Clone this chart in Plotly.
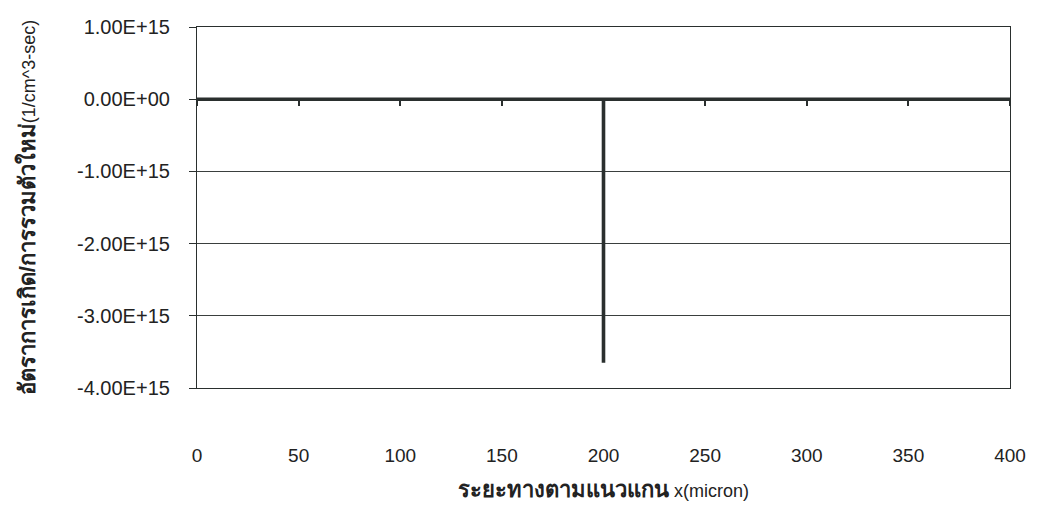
import plotly.graph_objects as go

# Position along the x axis (micron) and net generation/recombination rate (1/cm^3-sec)
x_micron = [0, 200, 200, 200, 400]
rate = [0.0, 0.0, -3.65e15, 0.0, 0.0]

x_ticks = [0, 50, 100, 150, 200, 250, 300, 350, 400]
y_ticks = [1e15, 0, -1e15, -2e15, -3e15, -4e15]
y_tick_text = ["1.00E+15", "0.00E+00", "-1.00E+15", "-2.00E+15", "-3.00E+15", "-4.00E+15"]

ink = "#2a2f2e"
font = "Liberation Sans, Arial, sans-serif"

fig = go.Figure()
fig.add_trace(go.Scatter(
    x=x_micron, y=rate, mode="lines",
    line=dict(color=ink, width=3.6),
    showlegend=False, hoverinfo="skip",
))
# invisible helper trace so the secondary x axis (ticks on the zero line) is drawn
fig.add_trace(go.Scatter(x=[x_ticks[0], x_ticks[-1]], y=[0, 0], xaxis="x2",
                         mode="lines", line=dict(width=0), showlegend=False,
                         hoverinfo="skip"))

fig.update_layout(
    width=1038, height=521,
    margin=dict(l=197, r=18, t=27, b=133),
    paper_bgcolor="white", plot_bgcolor="white",
    font=dict(family=font, color="#222", size=16),
    xaxis=dict(
        range=[0, 400], tickvals=x_ticks, ticks="", showgrid=False,
        zeroline=False, showline=True, mirror=True, linecolor=ink, linewidth=1.2,
        tickfont=dict(size=19), ticklabelstandoff=50,
        title=dict(text="<b><span style='font-size:22px'>ระยะทางตามแนวแกน</span></b> x(micron)",
                   font=dict(size=18), standoff=19),
    ),
    xaxis2=dict(
        overlaying="x", anchor="free", position=0.8, side="bottom",
        range=[0, 400], tickvals=x_ticks, ticks="outside", ticklen=6,
        tickwidth=1.5, tickcolor=ink, showticklabels=False,
        showgrid=False, zeroline=False, showline=False,
    ),
    yaxis=dict(
        range=[-4e15, 1e15], tickvals=y_ticks, ticktext=y_tick_text,
        ticks="outside", ticklen=7, tickcolor=ink,
        showgrid=True, gridcolor="#3a3f3e", gridwidth=1,
        zeroline=False, showline=True, mirror=True, linecolor=ink, linewidth=1.2,
        tickfont=dict(size=20), ticklabelstandoff=15,
        title=dict(text="<b><span style='font-size:22px'>อัตราการเกิด/การรวมตัวใหม่</span></b>(1/cm^3-sec)",
                   font=dict(size=18), standoff=36),
    ),
)

fig.write_html("out.html")
